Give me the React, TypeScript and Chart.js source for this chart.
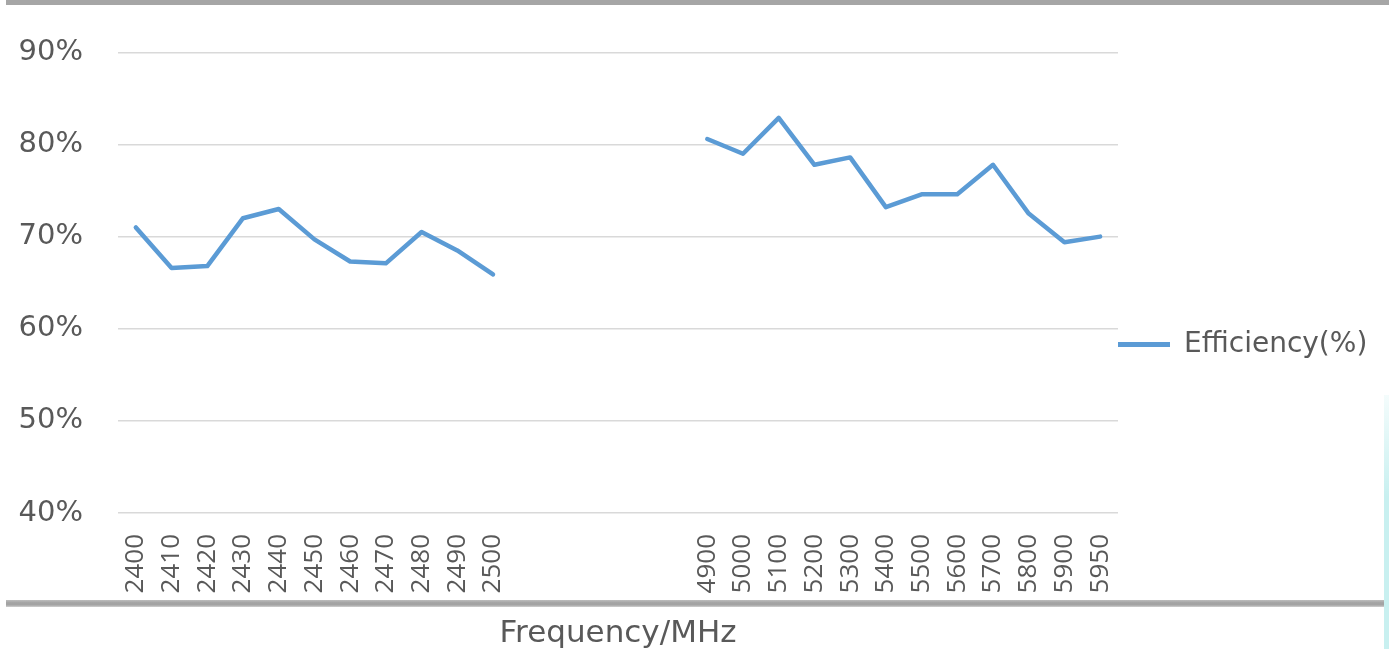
import React, { useEffect, useRef } from "react";
import { Chart, registerables } from "chart.js";

Chart.register(...registerables);

const lowBandFreqs = ["2400", "2410", "2420", "2430", "2440", "2450", "2460", "2470", "2480", "2490", "2500"];
const lowBandEff = [71.0, 66.6, 66.8, 72.0, 73.0, 69.7, 67.3, 67.1, 70.5, 68.5, 65.9];
const gapSlots = ["", "", "", "", ""];
const highBandFreqs = ["4900", "5000", "5100", "5200", "5300", "5400", "5500", "5600", "5700", "5800", "5900", "5950"];
const highBandEff = [80.6, 79.0, 82.9, 77.8, 78.6, 73.2, 74.6, 74.6, 77.8, 72.5, 69.4, 70.0];
const yTickValues = [40, 50, 60, 70, 80, 90];
const seriesName = "Efficiency(%)";
const xTitle = "Frequency/MHz";

export default function App() {
  const ref = useRef<HTMLCanvasElement | null>(null);

  useEffect(() => {
    if (!ref.current) return;
    const labels = [...lowBandFreqs, ...gapSlots, ...highBandFreqs];
    const data = [...lowBandEff, ...gapSlots.map(() => null), ...highBandEff];

    const legendFit = {
      id: "legendFit",
      beforeLayout(chart: any) {
        const lg = chart.legend;
        if (lg && !lg._patched) {
          const orig = lg.fit;
          lg.fit = function () {
            orig.call(this);
            this.width = 271;
          };
          lg._patched = true;
        }
      },
      afterLayout(chart: any) {
        const lg = chart.legend;
        if (lg) {
          lg.top -= 6;
          lg.bottom -= 6;
        }
      },
    };

    const chart = new Chart(ref.current, {
      type: "line",
      data: {
        labels,
        datasets: [
          {
            label: seriesName,
            data,
            borderColor: "#5B9BD5",
            backgroundColor: "#5B9BD5",
            borderWidth: 4.5,
            pointRadius: 0,
            tension: 0,
            spanGaps: false,
            borderJoinStyle: "round",
            borderCapStyle: "round",
          },
        ],
      },
      options: {
        animation: false,
        responsive: false,
        layout: { padding: { top: 52, bottom: 0, left: 0, right: 0 } },
        plugins: {
          tooltip: { enabled: false },
          legend: {
            position: "right",
            labels: {
              boxWidth: 52,
              boxHeight: 5,
              padding: 0,
              color: "#595959",
              font: { family: "DejaVu Sans", size: 28 },
              generateLabels: () => [
                {
                  text: seriesName,
                  fillStyle: "#5B9BD5",
                  strokeStyle: "#5B9BD5",
                  lineWidth: 0,
                  fontColor: "#595959",
                  datasetIndex: 0,
                } as any,
              ],
            },
          },
        },
        scales: {
          x: {
            type: "category",
            offset: true,
            grid: { display: false },
            border: { display: false },
            ticks: {
              autoSkip: false,
              maxRotation: 90,
              minRotation: 90,
              padding: 13,
              color: "#595959",
              font: { family: "Open Sans", size: 26 },
            },
            title: {
              display: true,
              text: xTitle,
              color: "#595959",
              font: { family: "DejaVu Sans", size: 31 },
              padding: { top: 0, bottom: -4 },
            },
            afterFit: (scale: any) => {
              scale.height = 136;
            },
          },
          y: {
            min: 40,
            max: 90,
            afterBuildTicks: (scale: any) => {
              scale.ticks = yTickValues.map((v) => ({ value: v }));
            },
            grid: { color: "#d9d9d9", lineWidth: 1.5, drawTicks: false },
            border: { display: false },
            ticks: {
              padding: 35,
              color: "#595959",
              font: { family: "DejaVu Sans", size: 29 },
              callback: (v: any) => v + "%",
            },
            afterFit: (scale: any) => {
              scale.width = 118;
            },
          },
        },
      },
      plugins: [legendFit],
    });
    return () => chart.destroy();
  }, []);

  return (
    <div style={{ position: "fixed", left: 0, top: 0, width: 1389, height: 649, background: "#fff", overflow: "hidden" }}>
      <canvas ref={ref} width={1389} height={649} style={{ display: "block" }} />
      <div style={{ position: "absolute", left: 6, top: 0, width: 1383, height: 5, background: "#a6a6a6" }} />
      <div
        style={{
          position: "absolute",
          left: 6,
          top: 600,
          width: 1378,
          height: 7,
          background: "linear-gradient(to bottom, #bdbdbd, #a3a3a3 40%, #a3a3a3 70%, #d0d0d0)",
        }}
      />
      <div
        style={{
          position: "absolute",
          left: 1384,
          top: 395,
          width: 5,
          height: 254,
          background: "linear-gradient(to bottom, #f4fcfc, #c8f0f0 40%, #c8f0f0)",
        }}
      />
    </div>
  );
}
